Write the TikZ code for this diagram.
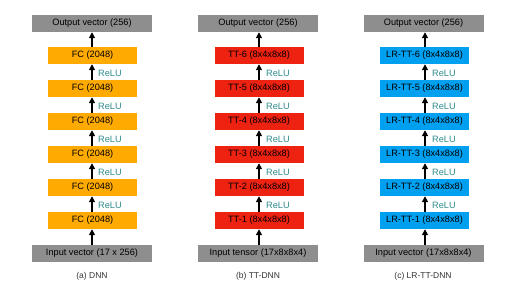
\documentclass[tikz,border=0pt]{standalone}
\usepackage{fontspec}
\setmainfont{Liberation Sans}
\usetikzlibrary{arrows.meta,calc}
\definecolor{fcorange}{HTML}{FFAA00}
\definecolor{ttred}{HTML}{EE2211}
\definecolor{lrblue}{HTML}{00A0F0}
\definecolor{iogray}{HTML}{8E8E8E}
\definecolor{reluteal}{HTML}{2E8B8B}
\definecolor{capgray}{HTML}{333333}
\tikzset{
  iobox/.style={fill=iogray, minimum width=120pt, minimum height=17pt, inner sep=0pt, font=\fontsize{9.2}{10}\selectfont},
  layerbox/.style={minimum width=89pt, minimum height=17pt, inner sep=0pt, font=\fontsize{9.2}{10}\selectfont},
  flow/.style={-{Triangle[length=6pt,width=6pt]}, line width=1.8pt, black},
  relu/.style={text=reluteal, font=\fontsize{9.2}{10}\selectfont, anchor=west, inner sep=0pt},
  captext/.style={text=capgray, font=\fontsize{8.5}{9}\selectfont}
}
\begin{document}
\begin{tikzpicture}[x=1pt,y=-1pt]
\useasboundingbox (0,0) rectangle (518,291);
% column (a)
\node[iobox] (a-out) at (92,23.5) {Output vector (256)};
\node[iobox] (a-in) at (92,253.5) {Input vector (17 x 256)};
\foreach \k/\y in {6/55.5,5/88.5,4/121.5,3/154.5,2/187.5,1/220.5}
  \node[layerbox, fill=fcorange] (a-\k) at (92.5,\y) {FC (2048)};
% column (b)
\node[iobox] (b-out) at (258,23.5) {Output vector (256)};
\node[iobox] (b-in) at (258,253.5) {Input tensor (17x8x8x4)};
\foreach \k/\y in {6/55.5,5/88.5,4/121.5,3/154.5,2/187.5,1/220.5}
  \node[layerbox, fill=ttred] (b-\k) at (259,\y) {TT-\k\ (8x4x8x8)};
% column (c)
\node[iobox] (c-out) at (423.5,23.5) {Output vector (256)};
\node[iobox] (c-in) at (423.5,253.5) {Input vector (17x8x8x4)};
\foreach \k/\y in {6/55.5,5/88.5,4/121.5,3/154.5,2/187.5,1/220.5}
  \node[layerbox, fill=lrblue] (c-\k) at (424.5,\y) {LR-TT-\k\ (8x4x8x8)};
% arrows
\foreach \c/\ax/\rx in {a/92/98,b/259/266,c/425/432}{
  \coordinate (\c-ax) at (\ax,0);
  \coordinate (\c-rx) at (\rx,0);
  \draw[flow] (\c-in.north -| \c-ax) -- (\c-1.south -| \c-ax);
  \draw[flow] (\c-6.north -| \c-ax) -- (\c-out.south -| \c-ax);
  \foreach \lo/\hi in {1/2,2/3,3/4,4/5,5/6}{
    \draw[flow] (\c-\lo.north -| \c-ax) -- (\c-\hi.south -| \c-ax);
    \coordinate (\c-m\lo) at ($(\c-\lo.north)!0.5!(\c-\hi.south)+(0,1.5)$);
    \node[relu] (\c-relu\lo) at (\c-m\lo -| \c-rx) {ReLU};
  }
}
% captions
\node[captext] (a-cap) at (92,276) {(a) DNN};
\node[captext] (b-cap) at (258,276) {(b) TT-DNN};
\node[captext] (c-cap) at (423,276) {(c) LR-TT-DNN};
\end{tikzpicture}
\end{document}
